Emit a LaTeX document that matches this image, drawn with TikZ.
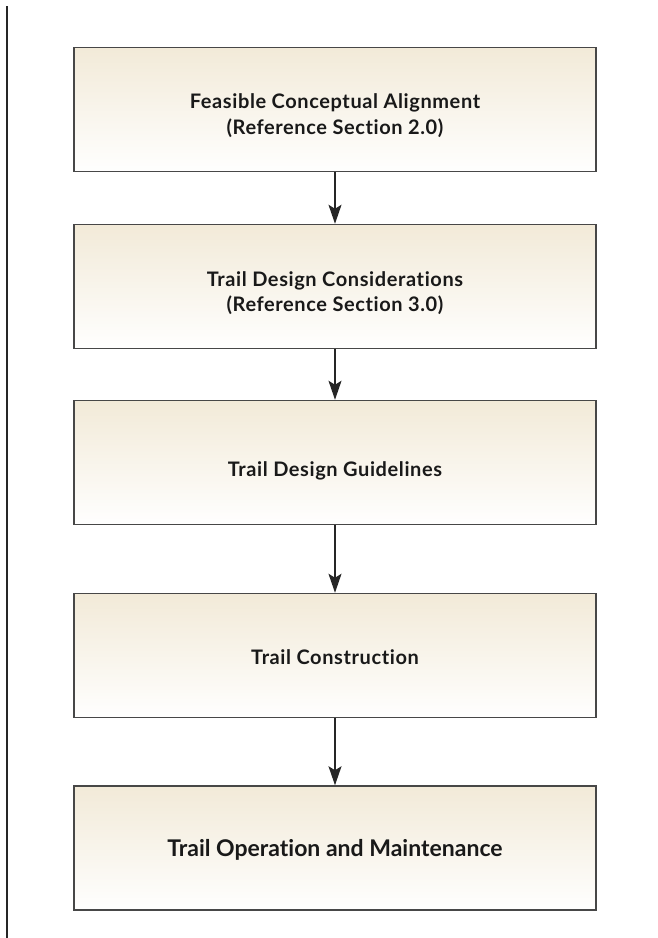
\documentclass[tikz,border=0pt]{standalone}
\usepackage{fontspec}
\setmainfont{Lato}[Ligatures={NoCommon}]
\newfontfamily\stagefont{Lato}[Ligatures={NoCommon},LetterSpace=3]
\usetikzlibrary{arrows.meta}
\begin{document}
\begin{tikzpicture}[x=1pt,y=-1pt,
  stagebox/.style={draw=black!72, line width=1.5pt, top color=topbeige, bottom color=white!98!topbeige,
    minimum width=522pt, minimum height=124pt, inner sep=0pt},
  stagetext/.style={inner sep=0pt, align=center, text=black!90, anchor=base,
    font=\stagefont\bfseries\fontsize{20}{24}\selectfont},
  flowarrow/.style={draw=black!85, line width=1.4pt, -{Stealth[length=19pt,width=13pt,inset=4pt]}}
]
\definecolor{topbeige}{HTML}{F2EAD8}
\useasboundingbox (0,0) rectangle (657,938);
\draw[line width=2pt, black!85] (7,6) coordinate (ltop) -- (7,938) coordinate (lbot);
\node[stagebox] (b1) at (335,109.5) {};
\node[stagebox] (b2) at (335,286.5) {};
\node[stagebox] (b3) at (335,462.5) {};
\node[stagebox] (b4) at (335,655.5) {};
\node[stagebox] (b5) at (335,848) {};
\node[stagetext] (t1a) at ([yshift=-108.5pt+109.5pt]b1.center) {Feasible Conceptual Alignment};
\node[stagetext] (t1b) at ([yshift=-134pt+109.5pt]b1.center) {(Reference Section 2.0)};
\node[stagetext] (t2a) at ([yshift=-286pt+286.5pt]b2.center) {Trail Design Considerations};
\node[stagetext] (t2b) at ([yshift=-311.5pt+286.5pt]b2.center) {(Reference Section 3.0)};
\node[stagetext] (t3) at ([yshift=-476pt+462.5pt]b3.center) {Trail Design Guidelines};
\node[stagetext] (t4) at ([yshift=-664.5pt+655.5pt]b4.center) {Trail Construction};
\node[stagetext, font=\rmfamily\bfseries\fontsize{23}{26}\selectfont] (t5) at ([yshift=-856.5pt+848pt]b5.center) {Trail Operation and Maintenance};
\draw[flowarrow] (b1) -- (b2);
\draw[flowarrow] (b2) -- (b3);
\draw[flowarrow] (b3) -- (b4);
\draw[flowarrow] (b4) -- (b5);
\end{tikzpicture}
\end{document}
